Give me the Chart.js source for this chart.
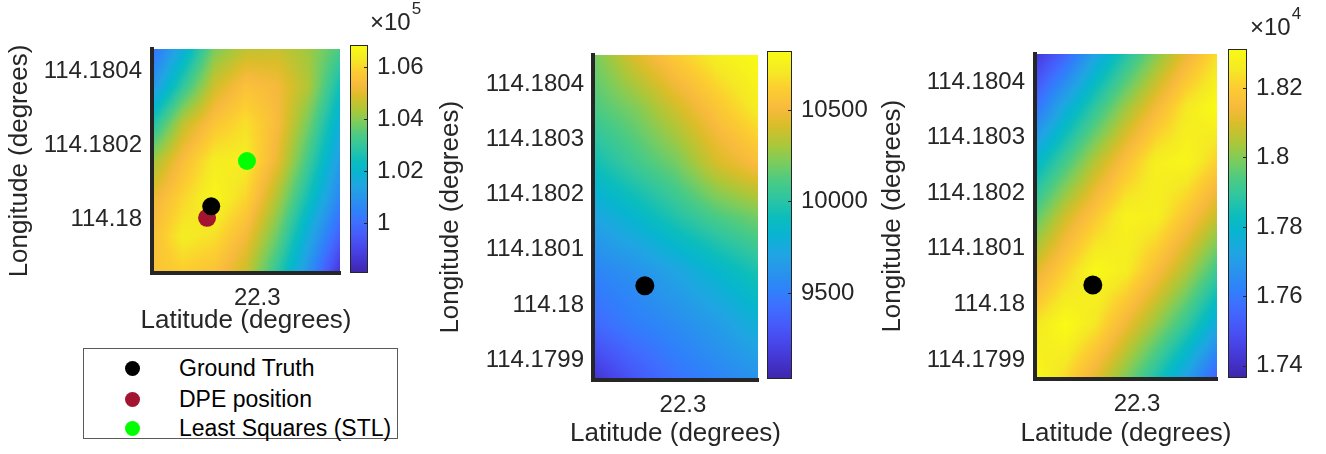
<!DOCTYPE html>
<html>
<head>
<meta charset="utf-8">
<script src="https://cdn.jsdelivr.net/npm/chart.js@4/dist/chart.umd.min.js"></script>
<style>
  body { margin: 0; background: #fff; font-family: "Liberation Sans", Arial, sans-serif; }
  #page { position: relative; width: 1326px; height: 454px; overflow: hidden; background: #fff; }
  #page canvas { position: absolute; }
  #legend { position: absolute; left: 83px; top: 348px; width: 313px; height: 89px; border: 1px solid #5a5a5a; background: #fff; }
  #legend .dot { position: absolute; width: 15px; height: 15px; border-radius: 50%; }
  #legend .lbl { position: absolute; font-size: 23px; line-height: 26px; color: #000; white-space: nowrap; }
</style>
</head>
<body>
<div id="page">
  <div id="legend"></div>
</div>
<script>
// ---- data ----
const seriesNames = ["Ground Truth", "DPE position", "Least Squares (STL)"];
const seriesColors = ["#000000", "#A2142F", "#00FF00"];

// [latitude, longitude]
const groundTruth = [22.2999755, 114.180035];
const dpePosition = [22.2999733, 114.180004];
const leastSquares = [22.2999945, 114.1801575];

const latTicks = [22.3];
const lonTicksLeft = [114.18, 114.1802, 114.1804];
const lonTicksOther = [114.1799, 114.18, 114.1801, 114.1802, 114.1803, 114.1804];

// image extents [min, max]
const latRange1 = [22.299944, 22.300044];
const lonRange1 = [114.179855, 114.18046];
const latRange2 = [22.2999422, 22.3000482];
const lonRange2 = [114.179864, 114.180454];
const latRange3 = [22.2999434, 22.3000444];
const lonRange3 = [114.179866, 114.180451];

// cost surfaces, rows from top (max longitude) to bottom, columns from min to max latitude
const costGrid1 = [
  [100010, 101760, 103870, 104570, 104660, 104220, 103340],
  [100970, 102990, 104750, 105530, 105270, 104390, 102470],
  [102640, 104570, 105620, 106150, 105360, 103780, 101760],
  [104220, 105450, 106410, 106410, 105100, 103170, 101150],
  [105100, 105970, 106670, 105970, 104390, 102470, 100540],
  [105450, 106410, 106150, 105270, 103690, 101590, 99660],
  [105530, 105800, 105530, 104660, 102900, 100890, 98520]
];
const costGrid2 = [
  [10195, 10428, 10607, 10750, 10822],
  [10105, 10213, 10392, 10571, 10732],
  [9926, 10069, 10195, 10410, 10535],
  [9711, 9836, 9980, 10105, 10195],
  [9532, 9603, 9711, 9836, 9962],
  [9388, 9496, 9568, 9657, 9783],
  [9120, 9299, 9442, 9532, 9603]
];
const costGrid3 = [
  [17422, 17545, 17725, 17867, 18000, 18123, 18236],
  [17583, 17753, 17895, 18028, 18142, 18255, 18312],
  [17791, 17924, 18056, 18170, 18274, 18293, 18208],
  [17952, 18085, 18189, 18284, 18274, 18179, 18075],
  [18104, 18208, 18303, 18265, 18160, 18047, 17914],
  [18246, 18312, 18246, 18132, 18018, 17895, 17744],
  [18303, 18227, 18113, 17990, 17857, 17706, 17535]
];

const cbRange1 = [98080, 106850];
const cbRange2 = [9030, 10822];
const cbRange3 = [17365, 18312];
const cbTicks1 = [100000, 102000, 104000, 106000];
const cbTicks2 = [9500, 10000, 10500];
const cbTicks3 = [17400, 17600, 17800, 18000, 18200];

// ---- parula colormap ----
const parulaIdx = [0, 3, 7, 10, 14, 17, 21, 24, 28, 31, 35, 38, 42, 45, 49, 52, 56, 59, 63];
const parulaRgb = [
  [62, 38, 168], [67, 50, 203], [71, 71, 235], [71, 88, 248], [62, 111, 255],
  [47, 129, 250], [39, 150, 235], [32, 165, 227], [8, 181, 208], [11, 189, 189],
  [49, 198, 159], [74, 203, 132], [129, 204, 89], [171, 199, 57], [220, 189, 41],
  [248, 186, 61], [252, 207, 48], [245, 233, 36], [249, 251, 21]
];
function parula(t) {
  t = Math.max(0, Math.min(1, t)) * 63;
  let k = 0;
  while (k < parulaIdx.length - 2 && t > parulaIdx[k + 1]) k++;
  const f = (t - parulaIdx[k]) / (parulaIdx[k + 1] - parulaIdx[k]);
  const a = parulaRgb[k], b = parulaRgb[k + 1];
  return [a[0] + (b[0] - a[0]) * f, a[1] + (b[1] - a[1]) * f, a[2] + (b[2] - a[2]) * f];
}

function sampleGrid(g, gx, gy) {
  const rows = g.length, cols = g[0].length;
  gx = Math.max(0, Math.min(cols - 1, gx));
  gy = Math.max(0, Math.min(rows - 1, gy));
  const i0 = Math.min(Math.floor(gx), cols - 2), j0 = Math.min(Math.floor(gy), rows - 2);
  const fx = gx - i0, fy = gy - j0;
  const top = g[j0][i0] * (1 - fx) + g[j0][i0 + 1] * fx;
  const bot = g[j0 + 1][i0] * (1 - fx) + g[j0 + 1][i0 + 1] * fx;
  return top * (1 - fy) + bot * fy;
}

const FONT = '"Liberation Sans", Arial, sans-serif';
const INK = "#262626";

function makeHeatmap(grid, latR, lonR, cbR, titlePos) {
  return {
    id: "heatmap",
    beforeDraw(chart) {
      const { ctx, chartArea: a, scales: { x, y } } = chart;
      const w = Math.round(a.right - a.left), h = Math.round(a.bottom - a.top);
      const off = document.createElement("canvas");
      off.width = w; off.height = h;
      const octx = off.getContext("2d");
      const img = octx.createImageData(w, h);
      const rows = grid.length, cols = grid[0].length;
      for (let j = 0; j < h; j++) {
        const lon = y.getValueForPixel(a.top + j + 0.5);
        const gy = (lonR[1] - lon) / (lonR[1] - lonR[0]) * (rows - 1);
        for (let i = 0; i < w; i++) {
          const lat = x.getValueForPixel(a.left + i + 0.5);
          const gx = (lat - latR[0]) / (latR[1] - latR[0]) * (cols - 1);
          const v = sampleGrid(grid, gx, gy);
          const c = parula((v - cbR[0]) / (cbR[1] - cbR[0]));
          const p = (j * w + i) * 4;
          img.data[p] = c[0]; img.data[p + 1] = c[1]; img.data[p + 2] = c[2]; img.data[p + 3] = 255;
        }
      }
      octx.putImageData(img, 0, 0);
      ctx.drawImage(off, a.left, a.top);
    },
    afterDraw(chart) {
      // axis titles, drawn without the width squeeze chart.js applies
      const { ctx, chartArea: a } = chart;
      ctx.save();
      ctx.fillStyle = INK;
      ctx.font = "26px " + FONT;
      ctx.textAlign = "center";
      ctx.textBaseline = "middle";
      ctx.fillText("Latitude (degrees)", (a.left + a.right) / 2, titlePos.x);
      ctx.translate(titlePos.y, (a.top + a.bottom) / 2);
      ctx.rotate(-Math.PI / 2);
      ctx.fillText("Longitude (degrees)", 0, 0);
      ctx.restore();
    }
  };
}

function makeColorbar(cbR, expo, expoPos) {
  return {
    id: "colorbar",
    beforeDraw(chart) {
      const { ctx, chartArea: a, scales: { y } } = chart;
      for (let py = Math.floor(a.top); py < a.bottom; py++) {
        const c = parula((y.getValueForPixel(py + 0.5) - cbR[0]) / (cbR[1] - cbR[0]));
        ctx.fillStyle = "rgb(" + c.map(Math.round).join(",") + ")";
        ctx.fillRect(a.left, py, a.right - a.left, 1);
      }
    },
    afterDraw(chart) {
      const { ctx, chartArea: a, scales: { y } } = chart;
      ctx.save();
      ctx.strokeStyle = INK;
      ctx.lineWidth = 1;
      ctx.strokeRect(a.left + 0.5, a.top + 0.5, a.right - a.left - 1, a.bottom - a.top - 1);
      y.ticks.forEach(t => {
        const py = Math.round(y.getPixelForValue(t.value)) + 0.5;
        ctx.beginPath();
        ctx.moveTo(a.right - 4, py);
        ctx.lineTo(a.right, py);
        ctx.stroke();
      });
      if (expo) {
        ctx.fillStyle = INK;
        ctx.textBaseline = "alphabetic";
        ctx.font = "24px " + FONT;
        ctx.fillText("\u00d710", expoPos[0], expoPos[1]);
        const w = ctx.measureText("\u00d710").width;
        ctx.font = "17px " + FONT;
        ctx.fillText(expo, expoPos[0] + w + 1, expoPos[1] - 16);
      }
      ctx.restore();
    }
  };
}

function addCanvas(box) {
  const c = document.createElement("canvas");
  c.width = box.w; c.height = box.h;
  c.style.left = box.left + "px";
  c.style.top = box.top + "px";
  c.style.width = box.w + "px";
  c.style.height = box.h + "px";
  document.getElementById("page").appendChild(c);
  return c.getContext("2d");
}

function pointSet(label, color, pos, r) {
  return {
    label: label,
    data: [{ x: pos[0], y: pos[1] }],
    backgroundColor: color,
    borderWidth: 0,
    pointRadius: r,
    pointHoverRadius: r
  };
}

function noPad(s) {
  s.paddingTop = 0; s.paddingBottom = 0; s.paddingLeft = 0; s.paddingRight = 0;
}

function heatChart(box, lay, grid, latR, lonR, cbR, lonTicks, datasets) {
  // title positions in canvas coordinates
  const titlePos = { x: lay.xTitle - box.top, y: lay.yTitle - box.left };
  return new Chart(addCanvas(box), {
    type: "scatter",
    data: { datasets: datasets },
    plugins: [makeHeatmap(grid, latR, lonR, cbR, titlePos)],
    options: {
      responsive: false,
      animation: false,
      events: [],
      layout: { padding: { top: 5, right: lay.padR, left: 0, bottom: 0 } },
      plugins: { legend: { display: false }, tooltip: { enabled: false } },
      scales: {
        x: {
          type: "linear", min: latR[0], max: latR[1], bounds: "data",
          afterBuildTicks: s => { s.ticks = latTicks.map(v => ({ value: v })); },
          afterFit: s => { s.height = lay.xh; noPad(s); },
          ticks: { autoSkip: false, maxRotation: 0, padding: lay.xpad, color: INK,
                   font: { family: FONT, size: 24 }, callback: v => String(v) },
          grid: { drawOnChartArea: false, drawTicks: false },
          border: { display: true, color: INK, width: 4 }
        },
        y: {
          type: "linear", min: lonR[0], max: lonR[1], bounds: "data",
          afterBuildTicks: s => { s.ticks = lonTicks.map(v => ({ value: v })); },
          afterFit: s => { s.width = lay.yw; noPad(s); },
          ticks: { autoSkip: false, padding: lay.ypad, color: INK,
                   font: { family: FONT, size: 24 }, callback: v => String(v) },
          grid: { drawOnChartArea: false, drawTicks: false },
          border: { display: true, color: INK, width: 4 }
        }
      }
    }
  });
}

function colorbarChart(box, lay, cbR, ticks, div, expo, expoPos) {
  return new Chart(addCanvas(box), {
    type: "scatter",
    data: { datasets: [] },
    plugins: [makeColorbar(cbR, expo, expoPos)],
    options: {
      responsive: false,
      animation: false,
      events: [],
      layout: { padding: { top: lay.top, bottom: lay.bottom, left: 0, right: 0 } },
      plugins: { legend: { display: false }, tooltip: { enabled: false } },
      scales: {
        x: { display: false, min: 0, max: 1 },
        y: {
          position: "right", min: cbR[0], max: cbR[1], bounds: "data",
          afterBuildTicks: s => { s.ticks = ticks.map(v => ({ value: v })); },
          afterFit: s => { s.width = lay.yw; noPad(s); },
          ticks: { autoSkip: false, padding: 9, color: INK,
                   font: { family: FONT, size: 24 }, callback: v => String(v / div) },
          grid: { display: false, drawTicks: false, tickLength: 0 },
          border: { display: false }
        }
      }
    }
  });
}

// left panel (canvas runs past the plot so the axis title is not cut)
heatChart({ left: 2, top: 40, w: 398, h: 302 },
  { padR: 60, xh: 69, yw: 150, xpad: 11, ypad: 10, xTitle: 321, yTitle: 20 },
  costGrid1, latRange1, lonRange1, cbRange1, lonTicksLeft, [
    pointSet(seriesNames[0], seriesColors[0], groundTruth, 9),
    pointSet(seriesNames[1], seriesColors[1], dpePosition, 9),
    pointSet(seriesNames[2], seriesColors[2], leastSquares, 9)
  ]);
colorbarChart({ left: 350, top: 0, w: 80, h: 280 }, { top: 45, bottom: 7, yw: 62 },
  cbRange1, cbTicks1, 1e5, "5", [20, 30]);

// middle panel
heatChart({ left: 432, top: 45, w: 381, h: 409 },
  { padR: 55, xh: 74, yw: 161, xpad: 11, ypad: 9, xTitle: 434, yTitle: 451 },
  costGrid2, latRange2, lonRange2, cbRange2, lonTicksOther, [
    pointSet(seriesNames[0], seriesColors[0], groundTruth, 9.5)
  ]);
colorbarChart({ left: 767, top: 0, w: 108, h: 390 }, { top: 51, bottom: 11, yw: 83 },
  cbRange2, cbTicks2, 1, null, null);

// right panel
heatChart({ left: 875, top: 44, w: 397, h: 410 },
  { padR: 55, xh: 75, yw: 160, xpad: 11, ypad: 10, xTitle: 434, yTitle: 893 },
  costGrid3, latRange3, lonRange3, cbRange3, lonTicksOther, [
    pointSet(seriesNames[0], seriesColors[0], groundTruth, 9.5)
  ]);
colorbarChart({ left: 1228, top: 0, w: 98, h: 390 }, { top: 49, bottom: 12, yw: 79 },
  cbRange3, cbTicks3, 1e4, "4", [22, 35]);

// legend box
const legend = document.getElementById("legend");
const rowCenters = [19, 50, 79];
seriesNames.forEach((name, i) => {
  const dot = document.createElement("div");
  dot.className = "dot";
  dot.style.background = seriesColors[i];
  dot.style.left = "41px";
  dot.style.top = (rowCenters[i] - 7.5) + "px";
  legend.appendChild(dot);
  const lbl = document.createElement("div");
  lbl.className = "lbl";
  lbl.textContent = name;
  lbl.style.left = "95px";
  lbl.style.top = (rowCenters[i] - 13) + "px";
  legend.appendChild(lbl);
});
</script>
</body>
</html>
